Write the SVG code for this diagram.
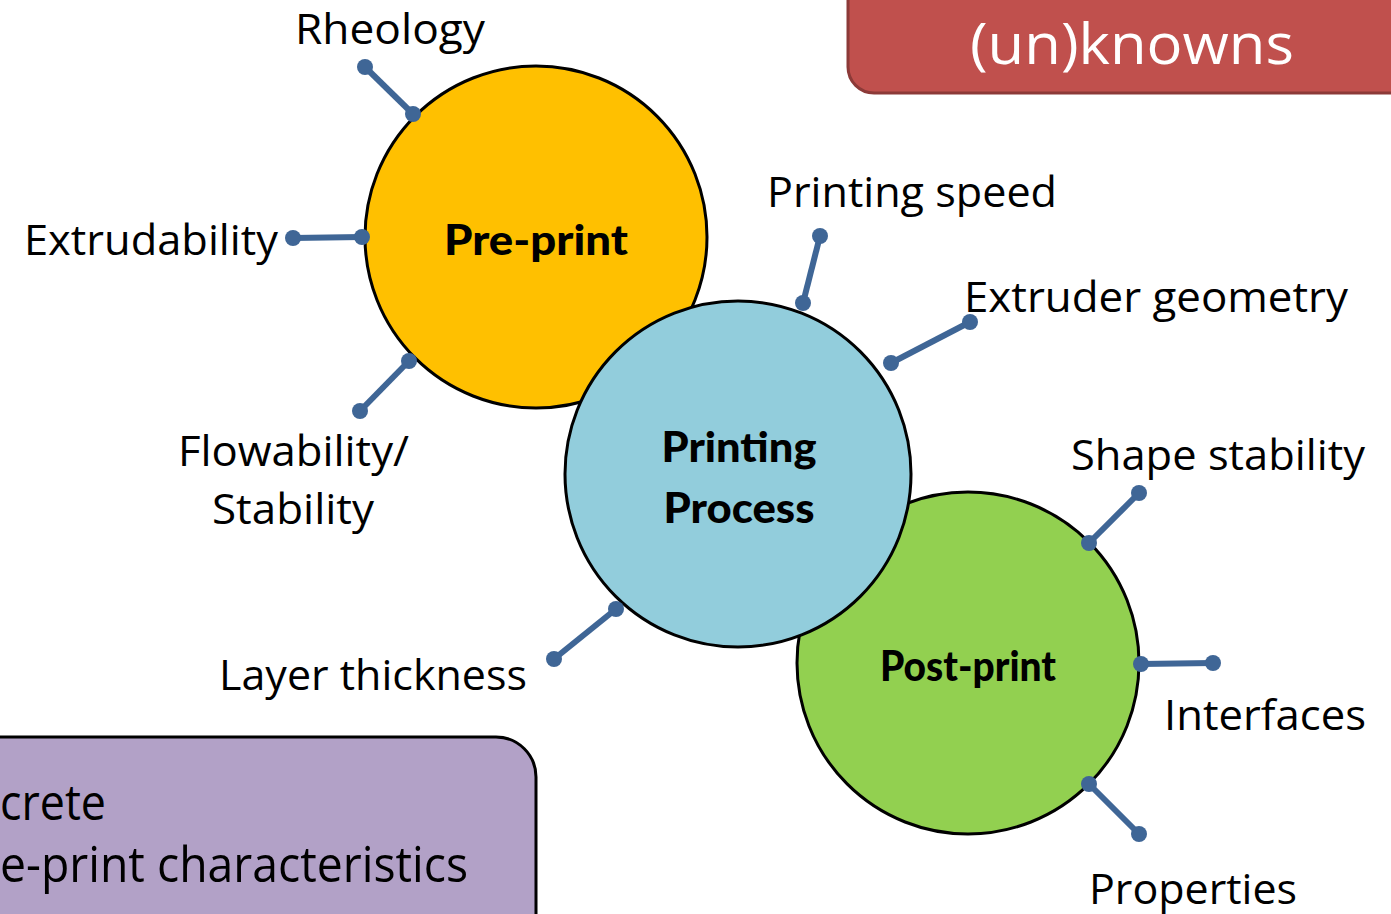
<svg xmlns="http://www.w3.org/2000/svg" width="1391" height="914" viewBox="0 0 1391 914">
<style>
.lbl{font-family:"Open Sans","Noto Sans","Liberation Sans",sans-serif;font-size:42px;fill:#000}
.bold{font-family:"Lato","Noto Sans","Liberation Sans",sans-serif;font-weight:900;font-size:42px;fill:#000}
.circ{stroke:#000;stroke-width:3}
.con line{stroke:#3F6696;stroke-width:6}
.con circle{fill:#3F6696}
</style>
<rect width="1391" height="914" fill="#fff"/>
<g id="unknowns-box">
<rect x="848" y="-30" width="600" height="123" rx="26" fill="#C0504D" stroke="#8C3A38" stroke-width="3"/>
<text x="1132" y="64" text-anchor="middle" style="font-family:'Open Sans','Noto Sans',sans-serif;font-size:56px;fill:#fff" textLength="324" lengthAdjust="spacingAndGlyphs">(un)knowns</text>
</g>
<g id="concrete-box">
<rect x="-60" y="737" width="596" height="240" rx="40" fill="#B2A1C7" stroke="#000" stroke-width="3"/>
<text x="0" y="820" class="lbl" style="font-size:50px" textLength="106" lengthAdjust="spacingAndGlyphs">crete</text>
<text x="0" y="882" class="lbl" style="font-size:50px" textLength="468" lengthAdjust="spacingAndGlyphs">e-print characteristics</text>
</g>
<g id="preprint">
<circle cx="536" cy="237" r="171" fill="#FFC000" class="circ"/>
<text x="536" y="255" text-anchor="middle" class="bold" textLength="184" lengthAdjust="spacingAndGlyphs">Pre-print</text>
</g>
<g id="postprint">
<circle cx="968" cy="663" r="171" fill="#92D050" class="circ"/>
<text x="968" y="681" text-anchor="middle" class="bold" textLength="176" lengthAdjust="spacingAndGlyphs">Post-print</text>
</g>
<g id="printing-process">
<circle cx="738" cy="474" r="173" fill="#92CDDC" class="circ"/>
<text x="739" y="462" text-anchor="middle" class="bold" textLength="155" lengthAdjust="spacingAndGlyphs">Printing</text>
<text x="739" y="523" text-anchor="middle" class="bold" textLength="151" lengthAdjust="spacingAndGlyphs">Process</text>
</g>
<g id="connectors" class="con">
<line x1="365" y1="67" x2="413" y2="114"/><circle cx="365" cy="67" r="8"/><circle cx="413" cy="114" r="8"/>
<line x1="293" y1="238" x2="362" y2="237"/><circle cx="293" cy="238" r="8"/><circle cx="362" cy="237" r="8"/>
<line x1="360" y1="411" x2="409" y2="361"/><circle cx="360" cy="411" r="8"/><circle cx="409" cy="361" r="8"/>
<line x1="820" y1="236" x2="803" y2="303"/><circle cx="820" cy="236" r="8"/><circle cx="803" cy="303" r="8"/>
<line x1="970" y1="322" x2="891" y2="363"/><circle cx="970" cy="322" r="8"/><circle cx="891" cy="363" r="8"/>
<line x1="554" y1="659" x2="616" y2="609"/><circle cx="554" cy="659" r="8"/><circle cx="616" cy="609" r="8"/>
<line x1="1139" y1="493" x2="1089" y2="543"/><circle cx="1139" cy="493" r="8"/><circle cx="1089" cy="543" r="8"/>
<line x1="1141" y1="664" x2="1213" y2="663"/><circle cx="1141" cy="664" r="8"/><circle cx="1213" cy="663" r="8"/>
<line x1="1089" y1="784" x2="1139" y2="834"/><circle cx="1089" cy="784" r="8"/><circle cx="1139" cy="834" r="8"/>
</g>
<g id="labels">
<text x="295" y="44" class="lbl" textLength="190" lengthAdjust="spacingAndGlyphs">Rheology</text>
<text x="24" y="255" class="lbl" textLength="254" lengthAdjust="spacingAndGlyphs">Extrudability</text>
<text x="178" y="466" class="lbl" textLength="231" lengthAdjust="spacingAndGlyphs">Flowability/</text>
<text x="212" y="524" class="lbl" textLength="162" lengthAdjust="spacingAndGlyphs">Stability</text>
<text x="767" y="207" class="lbl" textLength="290" lengthAdjust="spacingAndGlyphs">Printing speed</text>
<text x="964" y="312" class="lbl" textLength="384" lengthAdjust="spacingAndGlyphs">Extruder geometry</text>
<text x="219" y="690" class="lbl" textLength="308" lengthAdjust="spacingAndGlyphs">Layer thickness</text>
<text x="1071" y="470" class="lbl" textLength="294" lengthAdjust="spacingAndGlyphs">Shape stability</text>
<text x="1164" y="730" class="lbl" textLength="202" lengthAdjust="spacingAndGlyphs">Interfaces</text>
<text x="1089" y="904" class="lbl" textLength="208" lengthAdjust="spacingAndGlyphs">Properties</text>
</g>
</svg>
